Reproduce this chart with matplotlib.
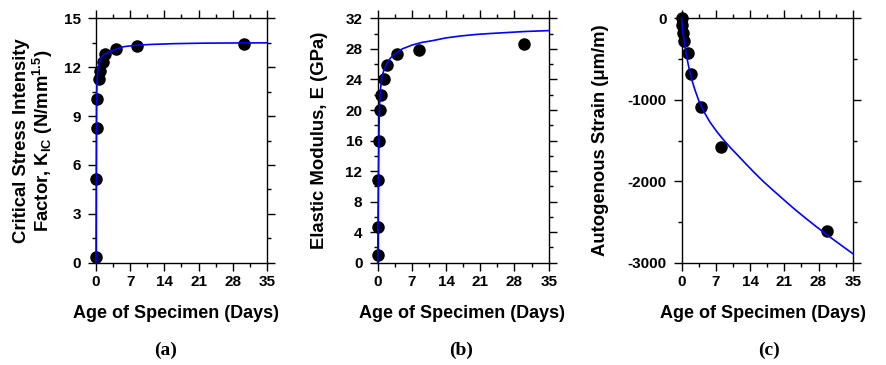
import matplotlib
matplotlib.use("Agg")
import matplotlib.pyplot as plt
from matplotlib.ticker import MultipleLocator

plt.rcParams["font.family"] = ["Liberation Sans", "DejaVu Sans"]
plt.rcParams["font.weight"] = "bold"
plt.rcParams["axes.unicode_minus"] = False
plt.rcParams["mathtext.fontset"] = "custom"
plt.rcParams["mathtext.rm"] = "Liberation Sans:bold"
plt.rcParams["mathtext.it"] = "Liberation Sans:bold"
plt.rcParams["mathtext.bf"] = "Liberation Sans:bold"

# (a) critical stress intensity factor
kic_age = [0.03, 0.06, 0.14, 0.27, 0.68, 0.82, 1.37, 1.85, 4.1, 8.3, 30.2]
kic_val = [0.37, 5.11, 8.29, 10.03, 11.25, 11.79, 12.34, 12.81, 13.12, 13.32, 13.45]
kic_fit_age = [0, 0.02, 0.04, 0.06, 0.08, 0.1, 0.12, 0.15, 0.18, 0.24, 0.3, 0.4, 0.5,
               0.65, 0.82, 1.1, 1.5, 2.0, 2.87, 4.0, 5.6, 8.0, 11.1, 16, 22, 28, 35]
kic_fit_val = [0, 1.8, 3.5, 5.3, 7.0, 8.5, 9.7, 10.5, 10.9, 11.3, 11.6, 11.85, 12.0,
               12.2, 12.44, 12.6, 12.75, 12.85, 12.95, 13.1, 13.26, 13.35, 13.4, 13.45,
               13.48, 13.49, 13.5]

# (b) elastic modulus
e_age = [0.04, 0.07, 0.1, 0.2, 0.54, 0.75, 1.22, 1.9, 3.95, 8.36, 29.9]
e_val = [1.0, 4.71, 10.83, 15.98, 20.0, 21.96, 24.0, 25.9, 27.3, 27.9, 28.6]
e_fit_age = [0, 0.03, 0.06, 0.1, 0.15, 0.2, 0.26, 0.34, 0.45, 0.6, 0.88, 1.3, 1.9, 2.6,
             3.6, 5.0, 7.0, 9.0, 11.1, 14, 17, 20.2, 23, 26, 30, 35]
e_fit_val = [0, 2.5, 5.0, 8.0, 11.0, 14.0, 17.0, 20.0, 21.6, 22.9, 24.36, 25.3, 26.1,
             26.8, 27.4, 28.0, 28.5, 28.85, 29.07, 29.45, 29.7, 29.9, 30.02, 30.13,
             30.28, 30.4]

# (c) autogenous strain
s_age = [0.0, 0.14, 0.34, 0.54, 1.22, 1.84, 3.9, 7.95, 29.7]
s_val = [0, -82, -184, -274, -430, -683, -1093, -1584, -2607]
s_fit_age = [0, 0.03, 0.1, 0.25, 0.48, 0.75, 1.02, 1.35, 1.7, 2.2, 2.72, 3.5, 4.55, 5.8,
             7.2, 8.5, 9.86, 11.5, 13, 14.8, 16.66, 18.5, 20.2, 21.8, 23.45, 25.5, 27.5,
             29.57, 31.3, 33.2, 35]
s_fit_val = [0, -45, -100, -180, -260, -370, -470, -570, -665, -780, -880, -1010, -1146,
             -1275, -1392, -1487, -1580, -1683, -1778, -1890, -2000, -2100, -2190, -2275,
             -2360, -2460, -2555, -2650, -2727, -2810, -2888]

xticks = [0, 7, 14, 21, 28, 35]

fig = plt.figure(figsize=(8.87, 3.65), dpi=100)
lefts = [96 / 887, 377.7 / 887, 681.7 / 887]
W, H = 171 / 887, 244.3 / 365
B = 1 - 262.7 / 365

panels = [
    (kic_age, kic_val, kic_fit_age, kic_fit_val, (0, 15), 3, 1.5,
     "Critical Stress Intensity\nFactor, K$_{\\mathregular{IC}}$ (N/mm$^{\\mathregular{1.5}}$)"),
    (e_age, e_val, e_fit_age, e_fit_val, (0, 32), 4, 2, "Elastic Modulus, E (GPa)"),
    (s_age, s_val, s_fit_age, s_fit_val, (-3000, 0), 1000, 500,
     "Autogenous Strain (\u03bcm/m)"),
]
tags = ["(a)", "(b)", "(c)"]
tag_x = [166, 461, 769]
xlab_x = [176, 462, 763]
ylab_x = [34, 320, 600.5]

for i, (x, y, fx, fy, ylim, ymaj, ymin, ylab) in enumerate(panels):
    ax = fig.add_axes([lefts[i], B, W, H])
    ax.plot(x, y, "o", color="black", ms=8, clip_on=False, zorder=3)
    ax.plot(fx, fy, color="#0000ff", lw=1.2, clip_on=False, zorder=4)
    ax.set_xlim(0, 35)
    ax.set_ylim(*ylim)
    ax.set_xticks(xticks)
    ax.xaxis.set_minor_locator(MultipleLocator(3.5))
    ax.yaxis.set_major_locator(MultipleLocator(ymaj))
    ax.yaxis.set_minor_locator(MultipleLocator(ymin))
    ax.tick_params(which="both", direction="out", top=True, right=True, width=1.0,
                   labelsize=11, colors="black")
    ax.tick_params(which="major", length=6)
    ax.tick_params(which="minor", length=3.2)
    ax.tick_params(axis="y", pad=5)
    ax.tick_params(axis="x", pad=2.5)
    for lab in ax.get_xticklabels() + ax.get_yticklabels():
        lab.set_fontweight("bold")
    for sp in ax.spines.values():
        sp.set_linewidth(1.0)
    ax.set_ylabel(ylab, fontsize=13.3, fontweight="bold", linespacing=1.05, va="center")
    ax.yaxis.set_label_coords((ylab_x[i] - lefts[i] * 887) / 171, 0.5)
    fig.text(xlab_x[i] / 887, 1 - 313 / 365, "Age of Specimen (Days)", ha="center",
             va="center", fontsize=13, fontweight="bold")
    fig.text(tag_x[i] / 887, 1 - 350 / 365, tags[i], ha="center", va="center",
             fontsize=14, fontweight="bold", family=["Liberation Serif", "DejaVu Serif"])

fig.savefig("out.png", dpi=100)
